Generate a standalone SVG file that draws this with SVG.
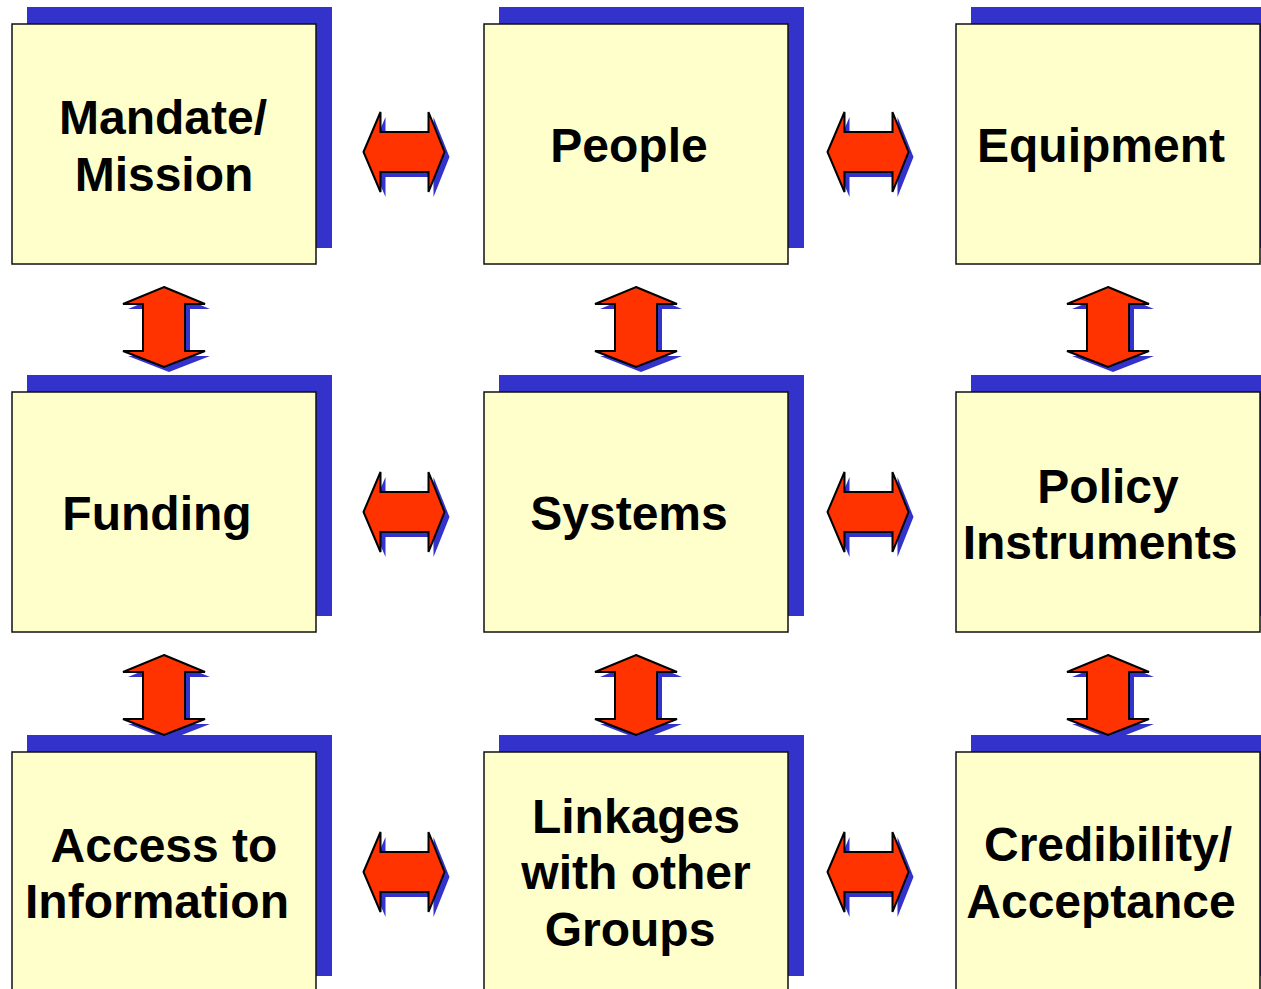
<svg xmlns="http://www.w3.org/2000/svg" xmlns:xlink="http://www.w3.org/1999/xlink" width="1261" height="989" viewBox="0 0 1261 989">
<style>
.shadow{fill:#3333cc;}
.box{fill:#ffffcc;stroke:#111;stroke-width:1.5;}
.lbl{font-family:"Liberation Sans",Arial,sans-serif;font-weight:bold;font-size:48px;fill:#000;text-anchor:middle;}
.arr{fill:#ff3300;stroke:#000;stroke-width:2;stroke-linejoin:miter;}
.arrsh{fill:#3333cc;}
</style>
<defs>
<path id="ha" d="M-40.5,0 L-23.5,-40 L-23.5,-20 L24.5,-20 L24.5,-40 L40.5,0 L24.5,40 L24.5,20 L-23.5,20 L-23.5,40 Z"/>
<path id="va" d="M0,-40 L41,-23 L21,-23 L21,24 L41,24 L0,40 L-41,24 L-21,24 L-21,-23 L-41,-23 Z"/>
<rect id="sh" x="16" y="-17" width="305" height="241"/>
</defs>
<rect width="1261" height="989" fill="#ffffff"/>

<g id="n-mandate">
<use xlink:href="#sh" class="shadow" transform="translate(11,24)"/>
<rect class="box" x="12" y="24" width="304" height="240"/>
<text class="lbl" x="163" y="134">Mandate/</text>
<text class="lbl" x="164" y="191">Mission</text>
</g>
<g id="n-people">
<use xlink:href="#sh" class="shadow" transform="translate(483,24)"/>
<rect class="box" x="484" y="24" width="304" height="240"/>
<text class="lbl" x="629" y="162">People</text>
</g>
<g id="n-equipment">
<use xlink:href="#sh" class="shadow" transform="translate(955,24)"/>
<rect class="box" x="956" y="24" width="304" height="240"/>
<text class="lbl" x="1101" y="162">Equipment</text>
</g>

<g id="n-funding">
<use xlink:href="#sh" class="shadow" transform="translate(11,392)"/>
<rect class="box" x="12" y="392" width="304" height="240"/>
<text class="lbl" x="157" y="530">Funding</text>
</g>
<g id="n-systems">
<use xlink:href="#sh" class="shadow" transform="translate(483,392)"/>
<rect class="box" x="484" y="392" width="304" height="240"/>
<text class="lbl" x="629" y="530">Systems</text>
</g>
<g id="n-policy">
<use xlink:href="#sh" class="shadow" transform="translate(955,392)"/>
<rect class="box" x="956" y="392" width="304" height="240"/>
<text class="lbl" x="1108" y="503">Policy</text>
<text class="lbl" x="1100" y="559">Instruments</text>
</g>

<g id="n-access">
<use xlink:href="#sh" class="shadow" transform="translate(11,752)"/>
<rect class="box" x="12" y="752" width="304" height="240"/>
<text class="lbl" x="164" y="862">Access to</text>
<text class="lbl" x="157" y="918">Information</text>
</g>
<g id="n-linkages">
<use xlink:href="#sh" class="shadow" transform="translate(483,752)"/>
<rect class="box" x="484" y="752" width="304" height="240"/>
<text class="lbl" x="636" y="833">Linkages</text>
<text class="lbl" x="636" y="889">with other</text>
<text class="lbl" x="630" y="946">Groups</text>
</g>
<g id="n-credibility">
<use xlink:href="#sh" class="shadow" transform="translate(955,752)"/>
<rect class="box" x="956" y="752" width="304" height="240"/>
<text class="lbl" x="1108" y="861">Credibility/</text>
<text class="lbl" x="1101" y="918">Acceptance</text>
</g>

<g id="connectors">
<g transform="translate(404,152)"><use xlink:href="#ha" class="arrsh" transform="translate(5,5)"/><use xlink:href="#ha" class="arr"/></g>
<g transform="translate(868,152)"><use xlink:href="#ha" class="arrsh" transform="translate(5,5)"/><use xlink:href="#ha" class="arr"/></g>
<g transform="translate(404,512)"><use xlink:href="#ha" class="arrsh" transform="translate(5,5)"/><use xlink:href="#ha" class="arr"/></g>
<g transform="translate(868,512)"><use xlink:href="#ha" class="arrsh" transform="translate(5,5)"/><use xlink:href="#ha" class="arr"/></g>
<g transform="translate(404,872)"><use xlink:href="#ha" class="arrsh" transform="translate(5,5)"/><use xlink:href="#ha" class="arr"/></g>
<g transform="translate(868,872)"><use xlink:href="#ha" class="arrsh" transform="translate(5,5)"/><use xlink:href="#ha" class="arr"/></g>

<g transform="translate(164,327)"><use xlink:href="#va" class="arrsh" transform="translate(5,5)"/><use xlink:href="#va" class="arr"/></g>
<g transform="translate(636,327)"><use xlink:href="#va" class="arrsh" transform="translate(5,5)"/><use xlink:href="#va" class="arr"/></g>
<g transform="translate(1108,327)"><use xlink:href="#va" class="arrsh" transform="translate(5,5)"/><use xlink:href="#va" class="arr"/></g>
<g transform="translate(164,695)"><use xlink:href="#va" class="arrsh" transform="translate(5,5)"/><use xlink:href="#va" class="arr"/></g>
<g transform="translate(636,695)"><use xlink:href="#va" class="arrsh" transform="translate(5,5)"/><use xlink:href="#va" class="arr"/></g>
<g transform="translate(1108,695)"><use xlink:href="#va" class="arrsh" transform="translate(5,5)"/><use xlink:href="#va" class="arr"/></g>
</g>
</svg>
